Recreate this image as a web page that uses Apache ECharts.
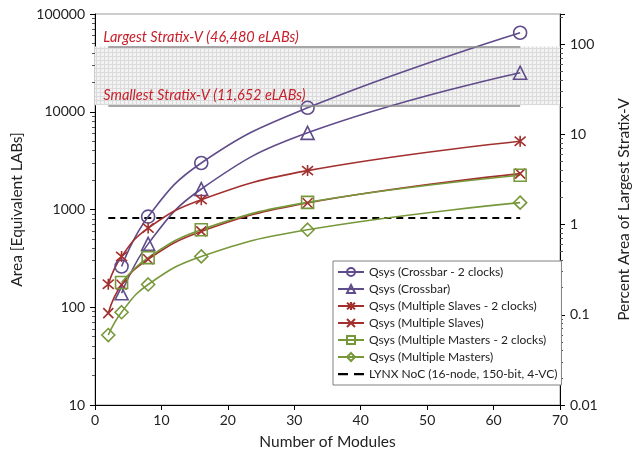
<!DOCTYPE html>
<html>
<head>
<meta charset="utf-8">
<script src="https://cdn.jsdelivr.net/npm/echarts@6/dist/echarts.min.js"></script>
<style>
  html, body { margin: 0; padding: 0; background: #fff; }
  #chart { width: 640px; height: 459px; }
</style>
</head>
<body>
<div id="chart"></div>
<script>
// number of modules on the x axis
const modules = [2, 4, 8, 16, 32, 64]
// area in equivalent LABs, null = no point
const crossbar2 = [null, 261, 845, 2990, 10970, 64300]
const crossbar = [null, 139, 445, 1620, 6080, 25100]
const slaves2 = [172, 330, 646, 1261, 2500, 4990]
const slaves = [87, 170, 310, 597, 1167, 2330]
const masters2 = [null, 179, 322, 621, 1183, 2240]
const masters = [52, 89, 171, 331, 621, 1175]
const lynxArea = 818
const lynxRange = [2, 64]
const largestStratix = 46480
const smallestStratix = 11652
const leftTicks = [10, 100, 1000, 10000, 100000]
const rightTicks = [0.01, 0.1, 1, 10, 100]

const font = 'Lato, "Open Sans", sans-serif'
const purple = '#604c8a'
const red = '#a2302e'
const green = '#77983a'

// asterisk = X plus a vertical bar
const starPath = 'path://M0,0L10,10M10,0L0,10M5,-1L5,11'
const crossPath = 'path://M0,0L10,10M10,0L0,10'
// two dashes for the LYNX legend entry (tiny corner dots keep the box 26x10)
const dashIcon = 'path://M0,4h10v2.2h-10zM16,4h10v2.2h-10zM0,0h0.01v0.01h-0.01zM25.99,9.99h0.01v0.01h-0.01z'

function pairs(vals) {
  return modules.map((m, i) => [m, vals[i]]).filter(p => p[1] != null)
}

// small grid pattern for the Stratix-V band
const pat = document.createElement('canvas')
pat.width = 4
pat.height = 4
const pctx = pat.getContext('2d')
pctx.fillStyle = '#f3f3f3'
pctx.fillRect(0, 0, 4, 4)
pctx.fillStyle = '#dadada'
pctx.fillRect(0, 0, 4, 1)
pctx.fillRect(0, 0, 1, 4)

function qsys(name, vals, color, symbol, size) {
  return {
    name: name,
    type: 'line',
    data: pairs(vals),
    smooth: 0.45,
    symbol: symbol,
    symbolSize: size,
    lineStyle: { color: color, width: 1.6 },
    itemStyle: { color: 'rgba(255,255,255,0)', borderColor: color, borderWidth: 1.6 },
    z: 3
  }
}

const myChart = echarts.init(document.getElementById('chart'))
myChart.setOption({
  animation: false,
  textStyle: { fontFamily: font },
  grid: {
    left: 95, right: 79, top: 14, bottom: 54,
    show: true, borderColor: '#9a9a9a', borderWidth: 1
  },
  legend: {
    orient: 'vertical',
    left: 333, top: 261,
    padding: [5, 4, 5, 4],
    itemGap: 5,
    itemWidth: 26,
    itemHeight: 10,
    backgroundColor: '#fff',
    borderColor: '#808080',
    borderWidth: 1,
    textStyle: { fontFamily: font, fontSize: 12, color: '#222' },
    data: [
      'Qsys (Crossbar - 2 clocks)', 'Qsys (Crossbar)',
      'Qsys (Multiple Slaves - 2 clocks)', 'Qsys (Multiple Slaves)',
      'Qsys (Multiple Masters - 2 clocks)', 'Qsys (Multiple Masters)',
      { name: 'LYNX NoC (16-node, 150-bit, 4-VC)', icon: dashIcon }
    ]
  },
  xAxis: {
    type: 'value',
    min: 0, max: 70, interval: 10,
    name: 'Number of Modules',
    nameLocation: 'middle',
    nameGap: 29,
    nameTextStyle: { fontSize: 15.5, color: '#222' },
    axisLine: { lineStyle: { color: '#000' } },
    axisTick: { lineStyle: { color: '#000' }, length: 5 },
    axisLabel: { fontSize: 14, color: '#222', margin: 8 },
    splitLine: { show: false }
  },
  yAxis: [
    {
      type: 'log',
      logBase: 10,
      min: leftTicks[0], max: leftTicks[leftTicks.length - 1],
      name: 'Area [Equivalent LABs]',
      nameLocation: 'middle',
      nameGap: 55,
      nameTextStyle: { fontSize: 15.5, color: '#222' },
      axisLine: { show: true, lineStyle: { color: '#000' } },
      axisTick: { lineStyle: { color: '#000' }, length: 5 },
      minorTick: { show: true, splitNumber: 9, length: 3, lineStyle: { color: '#555' } },
      axisLabel: { fontSize: 14, color: '#222', margin: 10, formatter: v => String(v) },
      splitLine: { show: false }
    },
    {
      type: 'log',
      logBase: 10,
      min: rightTicks[0],
      max: leftTicks[leftTicks.length - 1] / largestStratix * 100,
      name: 'Percent Area of Largest Stratix-V',
      nameLocation: 'middle',
      nameGap: 56,
      nameRotate: 90,
      nameTextStyle: { fontSize: 15.5, color: '#222' },
      axisLine: { show: true, lineStyle: { color: '#000' } },
      axisTick: { lineStyle: { color: '#000' }, length: 5 },
      minorTick: { show: true, splitNumber: 9, length: 3, lineStyle: { color: '#555' } },
      axisLabel: {
        fontSize: 14, color: '#222', margin: 10,
        formatter: v => rightTicks.some(t => Math.abs(t - v) / t < 1e-6) ? String(v) : ''
      },
      splitLine: { show: false }
    }
  ],
  series: [
    {
      name: 'band',
      type: 'line',
      data: [],
      silent: true,
      markArea: {
        silent: true,
        itemStyle: { color: { image: pat, repeat: 'repeat' } },
        data: [[{ xAxis: 0, yAxis: smallestStratix }, { xAxis: 70, yAxis: largestStratix }]]
      },
      markLine: {
        silent: true,
        symbol: 'none',
        lineStyle: { color: '#8c8c8c', width: 1.5, type: 'solid' },
        label: {
          position: 'insideStartTop',
          distance: [-5, 2],
          color: '#c8202a',
          fontStyle: 'italic',
          fontSize: 14.5,
          fontFamily: font
        },
        data: [
          [{ coord: [2, largestStratix], label: { formatter: 'Largest Stratix-V (46,480 eLABs)' } }, { coord: [64, largestStratix] }],
          [{ coord: [2, smallestStratix], label: { formatter: 'Smallest Stratix-V (11,652 eLABs)' } }, { coord: [64, smallestStratix] }]
        ]
      },
      z: 1
    },
    qsys('Qsys (Crossbar - 2 clocks)', crossbar2, purple, 'circle', 13),
    qsys('Qsys (Crossbar)', crossbar, purple, 'triangle', 13),
    qsys('Qsys (Multiple Slaves - 2 clocks)', slaves2, red, starPath, 11),
    qsys('Qsys (Multiple Slaves)', slaves, red, crossPath, 10),
    qsys('Qsys (Multiple Masters - 2 clocks)', masters2, green, 'rect', 12),
    qsys('Qsys (Multiple Masters)', masters, green, 'diamond', 13),
    {
      name: 'LYNX NoC (16-node, 150-bit, 4-VC)',
      type: 'line',
      data: lynxRange.map(x => [x, lynxArea]),
      symbol: 'none',
      lineStyle: { color: '#000', width: 2, type: [7, 5] },
      itemStyle: { color: '#000' },
      z: 2
    }
  ]
})
window.onresize = function() {
  myChart.resize()
}
</script>
</body>
</html>
